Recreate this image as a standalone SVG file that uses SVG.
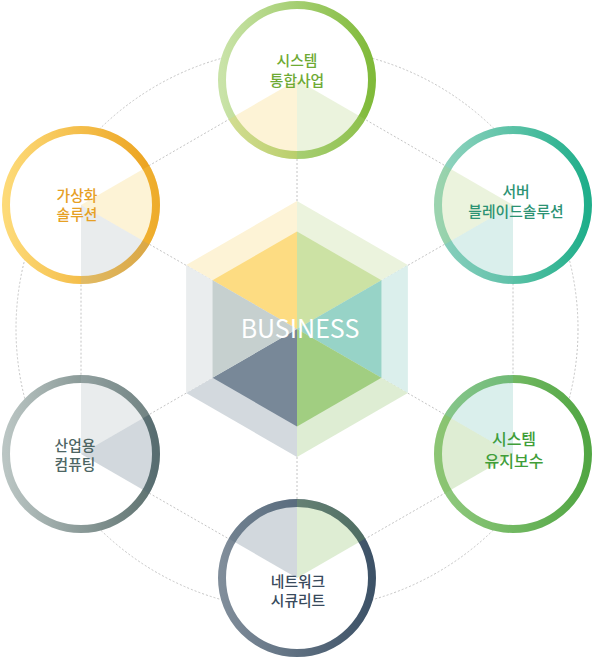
<svg xmlns="http://www.w3.org/2000/svg" width="592" height="659" viewBox="0 0 592 659">
<style>
.dot{fill:none;stroke:#c4c4c4;stroke-width:1;stroke-dasharray:2 2}
.ring{fill:#fff;stroke-width:8}
.w{fill-opacity:0.25}
.lbl{font-family:"Noto Sans CJK KR","Noto Sans",sans-serif;font-size:14.8px;font-weight:500;text-anchor:middle}
.big{font-size:16px}
.biz{font-family:"Noto Sans CJK KR","Noto Sans",sans-serif;font-size:25px;font-weight:400;fill:#fff;text-anchor:middle}
</style>
<defs>
<linearGradient id="gTop"><stop offset="0" stop-color="#c9e3a8"/><stop offset="1" stop-color="#80ba3a"/></linearGradient>
<linearGradient id="gUL"><stop offset="0" stop-color="#fdda78"/><stop offset="1" stop-color="#eba11c"/></linearGradient>
<linearGradient id="gUR"><stop offset="0" stop-color="#95d5c1"/><stop offset="1" stop-color="#1fae8a"/></linearGradient>
<linearGradient id="gLR"><stop offset="0" stop-color="#92ca80"/><stop offset="1" stop-color="#51a643"/></linearGradient>
<linearGradient id="gLL"><stop offset="0" stop-color="#bac5c3"/><stop offset="1" stop-color="#5c706e"/></linearGradient>
<linearGradient id="gBot"><stop offset="0" stop-color="#808d9a"/><stop offset="1" stop-color="#3d5267"/></linearGradient>
</defs>

<g id="connectors">
<circle class="dot" cx="297" cy="329" r="281"/>
<polygon class="dot" points="297,80 513,205 513,454 297,578 81,454 81,205"/>
<line class="dot" x1="297" y1="329" x2="297" y2="80"/>
<line class="dot" x1="297" y1="329" x2="513" y2="205"/>
<line class="dot" x1="297" y1="329" x2="513" y2="454"/>
<line class="dot" x1="297" y1="329" x2="297" y2="578"/>
<line class="dot" x1="297" y1="329" x2="81" y2="454"/>
<line class="dot" x1="297" y1="329" x2="81" y2="205"/>
</g>

<g id="business">
<polygon fill="#fdf3d6" points="297,329 186.15,265 297,201"/>
<polygon fill="#ebf3dd" points="297,329 297,201 407.85,265"/>
<polygon fill="#dbefec" points="297,329 407.85,265 407.85,393"/>
<polygon fill="#deedd3" points="297,329 407.85,393 297,457"/>
<polygon fill="#d3d9de" points="297,329 297,457 186.15,393"/>
<polygon fill="#eaedee" points="297,329 186.15,393 186.15,265"/>
<polygon fill="#fddc82" points="297,329 212.56,280.25 297,231.5"/>
<polygon fill="#cce2a4" points="297,329 297,231.5 381.44,280.25"/>
<polygon fill="#97d3c7" points="297,329 381.44,280.25 381.44,377.75"/>
<polygon fill="#a1ce81" points="297,329 381.44,377.75 297,426.5"/>
<polygon fill="#788898" points="297,329 297,426.5 212.56,377.75"/>
<polygon fill="#c6d0cf" points="297,329 212.56,377.75 212.56,280.25"/>
<text class="biz" x="300" y="338">BUSINESS</text>
</g>

<g id="node-top">
<circle class="ring" cx="297" cy="80" r="75" stroke="url(#gTop)"/>
<path class="w" fill="#afcf77" d="M297,80 L365.41,119.5 A79,79 0 0 1 297,159 Z"/>
<path class="w" fill="#f7cf5b" d="M297,80 L297,159 A79,79 0 0 1 228.59,119.5 Z"/>
<text class="lbl" fill="#6eaa34" x="297" y="66">시스템</text>
<text class="lbl" fill="#6eaa34" x="297" y="86">통합사업</text>
</g>

<g id="node-upper-right">
<circle class="ring" cx="513" cy="205" r="75" stroke="url(#gUR)"/>
<path class="w" fill="#6bbfb3" d="M513,205 L513,284 A79,79 0 0 1 444.59,244.5 Z"/>
<path class="w" fill="#afcf77" d="M513,205 L444.59,244.5 A79,79 0 0 1 444.59,165.5 Z"/>
<text class="lbl" fill="#2b9273" x="516" y="197">서버</text>
<text class="lbl" fill="#2b9273" x="516" y="217">블레이드솔루션</text>
</g>

<g id="node-lower-right">
<circle class="ring" cx="513" cy="454" r="75" stroke="url(#gLR)"/>
<path class="w" fill="#7bb74f" d="M513,454 L444.59,493.5 A79,79 0 0 1 444.59,414.5 Z"/>
<path class="w" fill="#6bbfb3" d="M513,454 L444.59,414.5 A79,79 0 0 1 513,375 Z"/>
<text class="lbl big" fill="#409e39" x="514" y="445">시스템</text>
<text class="lbl big" fill="#409e39" x="514" y="467">유지보수</text>
</g>

<g id="node-bottom">
<circle class="ring" cx="297" cy="578" r="75" stroke="url(#gBot)"/>
<path class="w" fill="#4b6377" d="M297,578 L228.59,538.5 A79,79 0 0 1 297,499 Z"/>
<path class="w" fill="#7bb74f" d="M297,578 L297,499 A79,79 0 0 1 365.41,538.5 Z"/>
<text class="lbl" fill="#394a5c" x="298" y="587">네트워크</text>
<text class="lbl" fill="#394a5c" x="298" y="606">시큐리트</text>
</g>

<g id="node-lower-left">
<circle class="ring" cx="81" cy="454" r="75" stroke="url(#gLL)"/>
<path class="w" fill="#a7b3b7" d="M81,454 L81,375 A79,79 0 0 1 149.41,414.5 Z"/>
<path class="w" fill="#4b6377" d="M81,454 L149.41,414.5 A79,79 0 0 1 149.41,493.5 Z"/>
<text class="lbl" fill="#4d6563" x="75" y="451">산업용</text>
<text class="lbl" fill="#4d6563" x="75" y="470">컴퓨팅</text>
</g>

<g id="node-upper-left">
<circle class="ring" cx="81" cy="205" r="75" stroke="url(#gUL)"/>
<path class="w" fill="#f7cf5b" d="M81,205 L149.41,165.5 A79,79 0 0 1 149.41,244.5 Z"/>
<path class="w" fill="#a7b3b7" d="M81,205 L149.41,244.5 A79,79 0 0 1 81,284 Z"/>
<text class="lbl" fill="#e6a024" x="77" y="201">가상화</text>
<text class="lbl" fill="#e6a024" x="77" y="220">솔루션</text>
</g>
</svg>
